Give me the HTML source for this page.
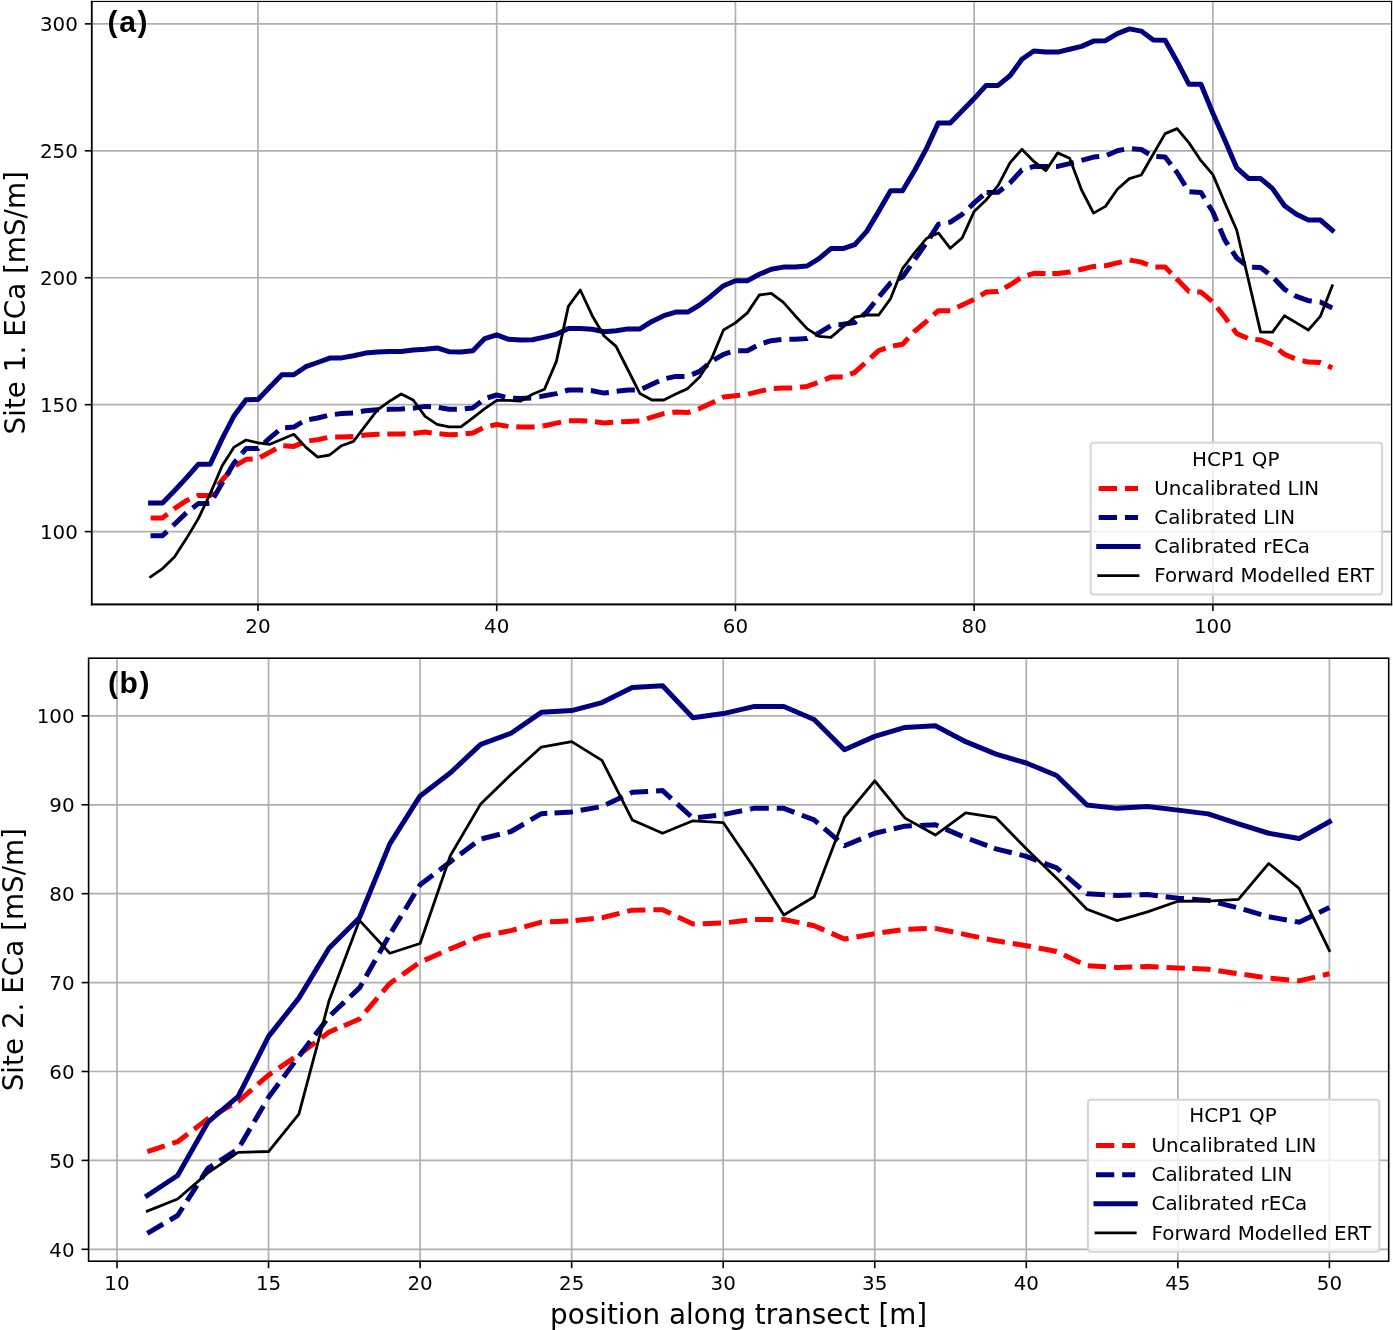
<!DOCTYPE html><html><head><meta charset="utf-8"><title>ECa comparison</title><style>html,body{margin:0;padding:0;background:#fff;overflow:hidden}svg{display:block;will-change:transform}</style></head><body>
<svg width="1393" height="1330" viewBox="0 0 1393 1330">
<rect x="0" y="0" width="1393" height="1330" fill="#ffffff"/>
<clipPath id="c1"><rect x="91.8" y="1.45" width="1299.55" height="602.65"/></clipPath>
<g stroke="#b0b0b0" stroke-width="1.7" fill="none">
<line x1="258" y1="1.45" x2="258" y2="604.1"/>
<line x1="496.72" y1="1.45" x2="496.72" y2="604.1"/>
<line x1="735.44" y1="1.45" x2="735.44" y2="604.1"/>
<line x1="974.16" y1="1.45" x2="974.16" y2="604.1"/>
<line x1="1212.88" y1="1.45" x2="1212.88" y2="604.1"/>
<line x1="91.8" y1="531.61" x2="1391.35" y2="531.61"/>
<line x1="91.8" y1="404.68" x2="1391.35" y2="404.68"/>
<line x1="91.8" y1="277.74" x2="1391.35" y2="277.74"/>
<line x1="91.8" y1="150.81" x2="1391.35" y2="150.81"/>
<line x1="91.8" y1="23.87" x2="1391.35" y2="23.87"/>
</g>
<g clip-path="url(#c1)" fill="none" stroke-linejoin="round">
<g stroke="#ff0000" stroke-width="5" stroke-dasharray="18.32 7.92" stroke-linecap="butt">
<polyline points="150.58,517.9 162.51,517.9 173.97,508.97"/>
<polyline points="173.97,508.97 174.45,508.6 186.38,500.7 196.89,496.03"/>
<polyline points="196.89,496.03 198.32,495.4 210.26,495.4 222.19,480 234.13,466.4 235.96,465.31"/>
<polyline points="235.96,465.31 246.06,459.3 258,458.6 260.02,457.5"/>
<polyline points="260.02,457.5 269.94,452.1 281.87,445.7 284.06,445.83"/>
<polyline points="284.06,445.83 293.81,446.4 305.74,441.4 317.68,439.6 329.62,437.1 341.55,436.9 353.49,436.4 365.42,435 377.36,434.3 387.3,434.05"/>
<polyline points="387.3,434.05 389.3,434 401.23,434 413.17,433.6 425.1,432.1 437.04,433.6 439.46,433.82"/>
<polyline points="439.46,433.82 448.98,434.7 460.91,434.3 472.85,432.9 484.78,427.1 496.72,424.5 508.66,426.4 520.59,427.1 532.53,426.9 543.25,425.82"/>
<polyline points="543.25,425.82 544.46,425.7 556.4,423.1 568.34,420.7 580.27,420.7 592.21,421.4 594.99,421.75"/>
<polyline points="594.99,421.75 604.14,422.9 616.08,422.1 628.02,421.4 639.95,421.1 651.89,417.1 663.82,413.6 675.76,412 687.7,412.6 698.49,408.98"/>
<polyline points="698.49,408.98 699.63,408.6 711.57,402.9 723.5,397.1 735.44,395.7 747.38,394.3 748.21,394.1"/>
<polyline points="748.21,394.1 759.31,391.4 771.25,388.6 783.18,387.9 795.12,387.9 807.06,386.4 818.99,382.1 830.93,377.1 842.86,377.1 850.34,374.16"/>
<polyline points="850.34,374.16 854.8,372.4 866.74,361.4 878.67,350.7 890.61,346.4 892.97,345.98"/>
<polyline points="892.97,345.98 902.54,344.3 914.48,331.4 926.42,321.4 938.35,310.7 950.29,310.7 962.22,305 974.16,299.3 986.1,292.1 998.03,291.4 1004.7,287.83"/>
<polyline points="1004.7,287.83 1009.97,285 1021.9,277.1 1033.84,273.3 1045.78,273.6 1052.3,273.6"/>
<polyline points="1052.3,273.6 1057.71,273.6 1069.65,272.1 1081.58,269.3 1093.52,266.4 1105.46,265.7 1117.39,262.9 1129.33,260 1130.25,260.16"/>
<polyline points="1130.25,260.16 1141.26,262.1 1153.2,266.9 1165.14,267.1 1176.34,278.55"/>
<polyline points="1176.34,278.55 1177.07,279.3 1189.01,291.4 1200.94,292.1 1212.88,302 1224.82,317.1 1236.75,333.6 1248.69,338.6 1255.3,339.38"/>
<polyline points="1255.3,339.38 1260.62,340 1272.56,345 1284.5,354.3 1296.43,359.3 1302.7,360.77"/>
<polyline points="1302.7,360.77 1308.37,362.1 1320.3,362.6 1332.24,367.9"/>
</g>
<g stroke="#000080" stroke-width="5" stroke-dasharray="18.27 7.9" stroke-linecap="butt">
<polyline points="150.58,535.7 162.51,535.7 173.18,525.51"/>
<polyline points="173.18,525.51 174.45,524.3 186.38,512.9 192.61,508.05"/>
<polyline points="192.61,508.05 198.32,503.6 210.26,503.6 222.19,482.9 226.82,475.15"/>
<polyline points="226.82,475.15 234.13,462.9 242.52,452.85"/>
<polyline points="242.52,452.85 246.06,448.6 258,448.6 264.45,442.82"/>
<polyline points="264.45,442.82 269.94,437.9 281.87,427.9 285.09,427.68"/>
<polyline points="285.09,427.68 293.81,427.1 305.74,420 317.68,418 329.62,415 341.55,413.6 353.49,412.9 365.42,410.7 377.36,409.7 386.72,409.39"/>
<polyline points="386.72,409.39 389.3,409.3 401.23,409 413.17,408.3 425.1,406.4 437.04,407.1 438.81,407.43"/>
<polyline points="438.81,407.43 448.98,409.3 460.91,409.3 472.85,407.9 484.78,398.6 496.72,395 508.66,397.9 520.59,398.6 532.53,397.9 539.53,396.61"/>
<polyline points="539.53,396.61 544.46,395.7 556.4,393.6 568.34,390 580.27,390 590.87,390.62"/>
<polyline points="590.87,390.62 592.21,390.7 604.14,393.1 616.08,391.4 628.02,390 639.95,390 651.89,384.3 663.82,378.9 675.76,376.4 687.7,376.4 692.44,374.41"/>
<polyline points="692.44,374.41 699.63,371.4 711.57,361.4 723.5,354.3 735.44,350.7 739.2,350.7"/>
<polyline points="739.2,350.7 747.38,350.7 759.31,344.3 771.25,340.7 783.18,339.3 795.12,339.3 807.06,338.6 818.99,332.9 830.93,325.7 838.69,324.79"/>
<polyline points="838.69,324.79 842.86,324.3 854.8,322.5 866.74,312.1 878.67,297.1 879.34,296.3"/>
<polyline points="879.34,296.3 890.61,282.9 902.54,277.1 914.48,260 926.42,242.9 938.35,224.3 950.29,222.1 962.22,214.3 974.16,202.9 986.1,192.5 986.61,192.49"/>
<polyline points="986.61,192.49 998.03,192.3 1009.97,182.9 1021.9,170 1030.04,167.55"/>
<polyline points="1030.04,167.55 1033.84,166.4 1045.78,166.4 1057.71,166.4 1069.65,163.6 1081.58,160.4 1093.52,157.1 1105.46,156 1117.39,150.7 1129.33,148.4 1131.99,148.65"/>
<polyline points="1131.99,148.65 1141.26,149.5 1153.2,156.4 1165.14,157 1175.23,170.11"/>
<polyline points="1175.23,170.11 1177.07,172.5 1189.01,191.8 1200.94,192.5 1212.88,212 1224.82,240 1236.75,258 1248.69,267.3 1252.21,267.36"/>
<polyline points="1252.21,267.36 1260.62,267.5 1272.56,276.8 1284.5,289.3 1294.59,295.31"/>
<polyline points="1294.59,295.31 1296.43,296.4 1308.37,300.7 1320.3,302.1 1332.24,307.9"/>
</g>
<polyline points="150.58,502.9 162.51,502.9 174.45,490.7 186.38,477.9 198.32,464.3 210.26,464.3 222.19,438.6 234.13,415.7 246.06,399.8 258,399.4 269.94,387 281.87,374.8 293.81,374.8 305.74,366.7 317.68,362.5 329.62,358.1 341.55,357.9 353.49,355.7 365.42,353.1 377.36,352.1 389.3,351.4 401.23,351.4 413.17,350 425.1,349.3 437.04,347.9 448.98,351.7 460.91,352.1 472.85,350.7 484.78,338.6 496.72,334.8 508.66,339.3 520.59,340 532.53,339.7 544.46,337.1 556.4,334.3 568.34,328.6 580.27,328.6 592.21,329.3 604.14,331.7 616.08,330.7 628.02,328.9 639.95,328.9 651.89,321.4 663.82,315.7 675.76,312.1 687.7,312.1 699.63,305 711.57,295.7 723.5,285.7 735.44,280.7 747.38,280.7 759.31,274.3 771.25,269.3 783.18,267.1 795.12,267.1 807.06,266 818.99,258.6 830.93,248.6 842.86,248.6 854.8,244.6 866.74,231.4 878.67,211.4 890.61,190.7 902.54,190.7 914.48,170.7 926.42,148.6 938.35,122.9 950.29,122.9 962.22,110.7 974.16,98.6 986.1,85.4 998.03,85.4 1009.97,75.7 1021.9,59.3 1033.84,51 1045.78,52.1 1057.71,52.1 1069.65,49.3 1081.58,46.4 1093.52,41.1 1105.46,40.7 1117.39,33.6 1129.33,28.9 1141.26,31.1 1153.2,40 1165.14,40.3 1177.07,61.4 1189.01,84.3 1200.94,84.3 1212.88,113.2 1224.82,140 1236.75,167.9 1248.69,178.6 1260.62,178.6 1272.56,188.6 1284.5,205.7 1296.43,214.3 1308.37,220 1320.3,220 1332.24,230.3" stroke="#000080" stroke-width="5" stroke-linecap="square"/>
<polyline points="150.58,576.9 162.51,568.6 174.45,557.1 186.38,538.6 198.32,518.6 210.26,493.6 222.19,465.7 234.13,447.1 246.06,440 258,442.9 269.94,444.3 281.87,439.3 293.81,434.3 305.74,447.1 317.68,457.1 329.62,455 341.55,445.7 353.49,441.4 365.42,425.7 377.36,410 389.3,401.4 401.23,394 413.17,400 425.1,416.4 437.04,424.3 448.98,426.9 460.91,426.9 472.85,417.9 484.78,408.6 496.72,400.3 508.66,400.4 520.59,401.1 532.53,394.3 544.46,389.3 556.4,361.4 568.34,306.4 580.27,290 592.21,315.7 604.14,336 616.08,346.4 628.02,370 639.95,393.6 651.89,400 663.82,400 675.76,394 687.7,388.6 699.63,377.1 711.57,358.6 723.5,330 735.44,322.9 747.38,312.9 759.31,295 771.25,293.3 783.18,302.1 795.12,315.7 807.06,328.6 818.99,336.4 830.93,337.4 842.86,327.1 854.8,317.1 866.74,315 878.67,315 890.61,298.6 902.54,268.6 914.48,252.9 926.42,238.6 938.35,232.9 950.29,248.3 962.22,237.9 974.16,211.4 986.1,200 998.03,185.7 1009.97,162.9 1021.9,149.3 1033.84,161.4 1045.78,170.7 1057.71,152.9 1069.65,158.3 1081.58,190 1093.52,213.1 1105.46,206.4 1117.39,189.3 1129.33,178.6 1141.26,175 1153.2,154.3 1165.14,133.6 1177.07,128.6 1189.01,142.9 1200.94,160.7 1212.88,174.6 1224.82,202.9 1236.75,230.3 1248.69,281 1260.62,332.1 1272.56,332.1 1284.5,315.7 1296.43,322.9 1308.37,330 1320.3,316.4 1332.24,285.7" stroke="#000000" stroke-width="2.8" stroke-linecap="square"/>
</g>
<rect x="90.88" y="0.87" width="1.79" height="604.53" fill="#000"/>
<rect x="1390.97" y="0.87" width="1.2" height="604.53" fill="#000"/>
<rect x="90.88" y="0.87" width="1301.29" height="1.15" fill="#000"/>
<rect x="90.88" y="603.42" width="1301.29" height="1.98" fill="#000"/>
<g stroke="#000" stroke-width="1.6">
<line x1="258" y1="604.1" x2="258" y2="611.1"/>
<line x1="496.72" y1="604.1" x2="496.72" y2="611.1"/>
<line x1="735.44" y1="604.1" x2="735.44" y2="611.1"/>
<line x1="974.16" y1="604.1" x2="974.16" y2="611.1"/>
<line x1="1212.88" y1="604.1" x2="1212.88" y2="611.1"/>
<line x1="84.8" y1="531.61" x2="91.8" y2="531.61"/>
<line x1="84.8" y1="404.68" x2="91.8" y2="404.68"/>
<line x1="84.8" y1="277.74" x2="91.8" y2="277.74"/>
<line x1="84.8" y1="150.81" x2="91.8" y2="150.81"/>
<line x1="84.8" y1="23.87" x2="91.8" y2="23.87"/>
</g>
<g font-family="'DejaVu Sans', 'Liberation Sans', sans-serif" font-size="19.86" fill="#000">
<text x="258" y="633" text-anchor="middle">20</text>
<text x="496.72" y="633" text-anchor="middle">40</text>
<text x="735.44" y="633" text-anchor="middle">60</text>
<text x="974.16" y="633" text-anchor="middle">80</text>
<text x="1212.88" y="633" text-anchor="middle">100</text>
<text x="77.8" y="538.81" text-anchor="end">100</text>
<text x="77.8" y="411.88" text-anchor="end">150</text>
<text x="77.8" y="284.94" text-anchor="end">200</text>
<text x="77.8" y="158" text-anchor="end">250</text>
<text x="77.8" y="31.07" text-anchor="end">300</text>
</g>
<text font-family="'DejaVu Sans', 'Liberation Sans', sans-serif" font-size="27.8" fill="#000" text-anchor="middle" transform="translate(25 302.78) rotate(-90)">Site 1. ECa [mS/m]</text>
<text font-family="'Liberation Sans', 'DejaVu Sans', sans-serif" font-weight="bold" font-size="30" letter-spacing="1.6" fill="#000" x="107.6" y="32.3">(a)</text>
<rect x="1090.65" y="442.65" width="291.45" height="151.8" rx="3" ry="3" fill="#ffffff" fill-opacity="0.8" stroke="#d6d6d6" stroke-width="2"/>
<g font-family="'DejaVu Sans', 'Liberation Sans', sans-serif" font-size="19.86" fill="#000">
<text x="1235.78" y="466.4" text-anchor="middle">HCP1 QP</text>
<text x="1154.3" y="495">Uncalibrated LIN</text>
<text x="1154.3" y="524.1">Calibrated LIN</text>
<text x="1154.3" y="553.2">Calibrated rECa</text>
<text x="1154.3" y="582.3">Forward Modelled ERT</text>
</g>
<line x1="1098.7" y1="488.4" x2="1138" y2="488.4" stroke="#ff0000" stroke-width="5" stroke-dasharray="18.33 7.92"/>
<line x1="1098.7" y1="517.5" x2="1138" y2="517.5" stroke="#000080" stroke-width="5" stroke-dasharray="18.33 7.92"/>
<line x1="1098.7" y1="546.6" x2="1138" y2="546.6" stroke="#000080" stroke-width="5" stroke-linecap="square"/>
<line x1="1098.7" y1="575.7" x2="1138" y2="575.7" stroke="#000000" stroke-width="2.8" stroke-linecap="square"/>
<clipPath id="c658"><rect x="88.6" y="658.2" width="1300.1" height="603"/></clipPath>
<g stroke="#b0b0b0" stroke-width="1.7" fill="none">
<line x1="117" y1="658.2" x2="117" y2="1261.2"/>
<line x1="268.55" y1="658.2" x2="268.55" y2="1261.2"/>
<line x1="420.1" y1="658.2" x2="420.1" y2="1261.2"/>
<line x1="571.65" y1="658.2" x2="571.65" y2="1261.2"/>
<line x1="723.2" y1="658.2" x2="723.2" y2="1261.2"/>
<line x1="874.75" y1="658.2" x2="874.75" y2="1261.2"/>
<line x1="1026.3" y1="658.2" x2="1026.3" y2="1261.2"/>
<line x1="1177.85" y1="658.2" x2="1177.85" y2="1261.2"/>
<line x1="1329.4" y1="658.2" x2="1329.4" y2="1261.2"/>
<line x1="88.6" y1="1249.3" x2="1388.7" y2="1249.3"/>
<line x1="88.6" y1="1160.4" x2="1388.7" y2="1160.4"/>
<line x1="88.6" y1="1071.5" x2="1388.7" y2="1071.5"/>
<line x1="88.6" y1="982.6" x2="1388.7" y2="982.6"/>
<line x1="88.6" y1="893.7" x2="1388.7" y2="893.7"/>
<line x1="88.6" y1="804.8" x2="1388.7" y2="804.8"/>
<line x1="88.6" y1="715.9" x2="1388.7" y2="715.9"/>
</g>
<g clip-path="url(#c658)" fill="none" stroke-linejoin="round">
<g stroke="#ff0000" stroke-width="5" stroke-dasharray="18.35 7.94" stroke-linecap="butt">
<polyline points="147.31,1151.51 177.62,1141.73 207.93,1118.62 237.91,1101.47"/>
<polyline points="237.91,1101.47 238.24,1101.28 257.97,1084.21"/>
<polyline points="257.97,1084.21 268.55,1075.06 298.86,1054.61 329.17,1031.94 343.89,1025.68"/>
<polyline points="343.89,1025.68 359.48,1019.05 389.79,983.49 402.75,974.37"/>
<polyline points="402.75,974.37 420.1,962.15 450.41,948.82 480.72,936.37 498.75,932.93"/>
<polyline points="498.75,932.93 511.03,930.59 541.34,922.15 571.65,920.81 575.55,920.41"/>
<polyline points="575.55,920.41 601.96,917.7 632.27,910.15 662.58,909.7 692.89,923.93 723.2,923.04 753.51,919.48 755,919.48"/>
<polyline points="755,919.48 783.82,919.48 806.99,924.24"/>
<polyline points="806.99,924.24 814.13,925.7 844.44,939.04 874.75,933.7 905.06,929.26 935.31,928.37"/>
<polyline points="935.31,928.37 935.37,928.37 965.68,934.59 995.99,940.82 1012.76,943.52"/>
<polyline points="1012.76,943.52 1026.3,945.71 1056.61,951.49 1086.92,965.71 1113.98,967.3"/>
<polyline points="1113.98,967.3 1117.23,967.49 1147.54,966.6 1177.85,967.93 1192.23,968.56"/>
<polyline points="1192.23,968.56 1208.16,969.26 1238.47,973.71 1268.78,978.15 1270.86,978.34"/>
<polyline points="1270.86,978.34 1297.19,980.65"/>
<polyline points="1297.19,980.65 1299.09,980.82 1329.4,973.71"/>
</g>
<g stroke="#000080" stroke-width="5" stroke-dasharray="18.37 7.94" stroke-linecap="butt">
<polyline points="147.31,1233.3 177.62,1215.52 207.93,1168.4 238.24,1148.84 240.81,1144.47"/>
<polyline points="240.81,1144.47 267.92,1098.35"/>
<polyline points="267.92,1098.35 268.55,1097.28 298.86,1056.39 329.17,1016.38 330.93,1014.73"/>
<polyline points="330.93,1014.73 359.48,987.93 389.79,934.59 391.58,931.66"/>
<polyline points="391.58,931.66 420.1,884.81 450.41,861.7 480.72,839.03 482.05,838.7"/>
<polyline points="482.05,838.7 511.03,831.47 541.34,813.69 554.52,812.92"/>
<polyline points="554.52,812.92 571.65,811.91 601.96,806.58 632.27,792.35 662.58,790.58 692.89,818.13 723.2,814.58 750.51,808.97"/>
<polyline points="750.51,808.97 753.51,808.36 783.82,808.36 801.84,815.23"/>
<polyline points="801.84,815.23 814.13,819.91 844.44,845.69 874.75,833.25 905.06,826.14 920.25,825.47"/>
<polyline points="920.25,825.47 935.37,824.8 965.68,837.69 994.02,848.08"/>
<polyline points="994.02,848.08 995.99,848.81 1026.3,856.36 1056.61,867.92 1086.92,893.7 1113.22,895.24"/>
<polyline points="1113.22,895.24 1117.23,895.48 1147.54,894.59 1177.85,898.14 1192.2,899.2"/>
<polyline points="1192.2,899.2 1208.16,900.37 1238.47,907.92 1268.78,916.81"/>
<polyline points="1268.78,916.81 1268.78,916.81 1295.08,921.44"/>
<polyline points="1295.08,921.44 1299.09,922.15 1329.4,907.48"/>
</g>
<polyline points="147.31,1195.52 177.62,1175.51 207.93,1122.17 238.24,1096.39 268.55,1036.38 298.86,998.16 329.17,947.93 359.48,917.7 389.79,843.92 420.1,795.91 450.41,772.8 480.72,744.35 511.03,733.24 541.34,712.34 571.65,710.57 601.96,702.56 632.27,687.45 662.58,685.67 692.89,717.68 723.2,713.59 753.51,706.57 783.82,706.57 814.13,719.46 844.44,749.68 874.75,736.35 905.06,727.46 935.37,725.68 965.68,741.68 995.99,754.13 1026.3,763.02 1056.61,775.46 1086.92,804.98 1117.23,808.36 1147.54,806.58 1177.85,810.13 1208.16,813.87 1238.47,823.82 1268.78,833.25 1299.09,838.58 1329.4,821.69" stroke="#000080" stroke-width="5" stroke-linecap="square"/>
<polyline points="147.31,1211.07 177.62,1198.98 207.93,1172.85 238.24,1152.4 268.55,1151.51 298.86,1114.17 329.17,1000.38 359.48,920.37 389.79,953.26 420.1,943.48 450.41,855.47 480.72,803.91 511.03,774.57 541.34,747.01 571.65,741.68 601.96,760.35 632.27,819.91 662.58,833.25 692.89,820.8 723.2,822.58 753.51,867.03 783.82,915.04 814.13,896.81 844.44,817.25 874.75,780.8 905.06,818.13 935.37,835.03 965.68,812.8 995.99,817.69 1026.3,848.72 1056.61,878.14 1086.92,909.26 1117.23,920.64 1147.54,911.92 1177.85,901.26 1208.16,901.08 1238.47,899.39 1268.78,863.47 1299.09,888.37 1329.4,950.6" stroke="#000000" stroke-width="2.8" stroke-linecap="square"/>
</g>
<rect x="88.6" y="658.2" width="1300.1" height="603" fill="none" stroke="#000" stroke-width="1.6"/>
<g stroke="#000" stroke-width="1.6">
<line x1="117" y1="1261.2" x2="117" y2="1268.2"/>
<line x1="268.55" y1="1261.2" x2="268.55" y2="1268.2"/>
<line x1="420.1" y1="1261.2" x2="420.1" y2="1268.2"/>
<line x1="571.65" y1="1261.2" x2="571.65" y2="1268.2"/>
<line x1="723.2" y1="1261.2" x2="723.2" y2="1268.2"/>
<line x1="874.75" y1="1261.2" x2="874.75" y2="1268.2"/>
<line x1="1026.3" y1="1261.2" x2="1026.3" y2="1268.2"/>
<line x1="1177.85" y1="1261.2" x2="1177.85" y2="1268.2"/>
<line x1="1329.4" y1="1261.2" x2="1329.4" y2="1268.2"/>
<line x1="81.6" y1="1249.3" x2="88.6" y2="1249.3"/>
<line x1="81.6" y1="1160.4" x2="88.6" y2="1160.4"/>
<line x1="81.6" y1="1071.5" x2="88.6" y2="1071.5"/>
<line x1="81.6" y1="982.6" x2="88.6" y2="982.6"/>
<line x1="81.6" y1="893.7" x2="88.6" y2="893.7"/>
<line x1="81.6" y1="804.8" x2="88.6" y2="804.8"/>
<line x1="81.6" y1="715.9" x2="88.6" y2="715.9"/>
</g>
<g font-family="'DejaVu Sans', 'Liberation Sans', sans-serif" font-size="19.86" fill="#000">
<text x="117" y="1290.1" text-anchor="middle">10</text>
<text x="268.55" y="1290.1" text-anchor="middle">15</text>
<text x="420.1" y="1290.1" text-anchor="middle">20</text>
<text x="571.65" y="1290.1" text-anchor="middle">25</text>
<text x="723.2" y="1290.1" text-anchor="middle">30</text>
<text x="874.75" y="1290.1" text-anchor="middle">35</text>
<text x="1026.3" y="1290.1" text-anchor="middle">40</text>
<text x="1177.85" y="1290.1" text-anchor="middle">45</text>
<text x="1329.4" y="1290.1" text-anchor="middle">50</text>
<text x="74.6" y="1256.5" text-anchor="end">40</text>
<text x="74.6" y="1167.6" text-anchor="end">50</text>
<text x="74.6" y="1078.7" text-anchor="end">60</text>
<text x="74.6" y="989.8" text-anchor="end">70</text>
<text x="74.6" y="900.9" text-anchor="end">80</text>
<text x="74.6" y="812" text-anchor="end">90</text>
<text x="74.6" y="723.1" text-anchor="end">100</text>
</g>
<text font-family="'DejaVu Sans', 'Liberation Sans', sans-serif" font-size="27.8" fill="#000" text-anchor="middle" transform="translate(22.5 959.7) rotate(-90)">Site 2. ECa [mS/m]</text>
<text font-family="'Liberation Sans', 'DejaVu Sans', sans-serif" font-weight="bold" font-size="30" letter-spacing="1.6" fill="#000" x="107.9" y="692.6">(b)</text>
<rect x="1087.9" y="1099.85" width="291.45" height="151.8" rx="3" ry="3" fill="#ffffff" fill-opacity="0.8" stroke="#d6d6d6" stroke-width="2"/>
<g font-family="'DejaVu Sans', 'Liberation Sans', sans-serif" font-size="19.86" fill="#000">
<text x="1233.03" y="1122.3" text-anchor="middle">HCP1 QP</text>
<text x="1151.55" y="1152.2">Uncalibrated LIN</text>
<text x="1151.55" y="1181.3">Calibrated LIN</text>
<text x="1151.55" y="1210.4">Calibrated rECa</text>
<text x="1151.55" y="1239.5">Forward Modelled ERT</text>
</g>
<line x1="1095.95" y1="1145.6" x2="1135.25" y2="1145.6" stroke="#ff0000" stroke-width="5" stroke-dasharray="18.33 7.92"/>
<line x1="1095.95" y1="1174.7" x2="1135.25" y2="1174.7" stroke="#000080" stroke-width="5" stroke-dasharray="18.33 7.92"/>
<line x1="1095.95" y1="1203.8" x2="1135.25" y2="1203.8" stroke="#000080" stroke-width="5" stroke-linecap="square"/>
<line x1="1095.95" y1="1232.9" x2="1135.25" y2="1232.9" stroke="#000000" stroke-width="2.8" stroke-linecap="square"/>
<text font-family="'DejaVu Sans', 'Liberation Sans', sans-serif" font-size="27.8" fill="#000" text-anchor="middle" x="738.65" y="1324.0">position along transect [m]</text>
</svg></body></html>
